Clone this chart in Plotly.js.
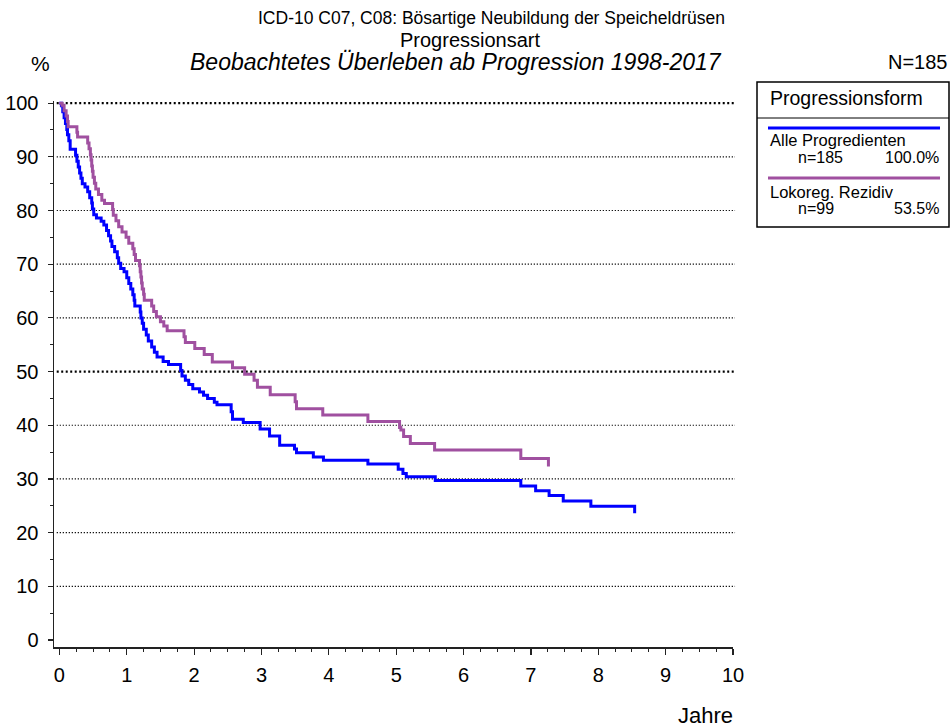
<!DOCTYPE html>
<html>
<head>
<meta charset="utf-8">
<script src="https://cdn.plot.ly/plotly-3.0.1.min.js"></script>
<style>html,body{margin:0;padding:0;background:#fff;}#chart{width:952px;height:728px;}</style>
</head>
<body>
<div id="chart"></div>
<script>
// ---- Data ----
const seriesNames = ["Alle Progredienten", "Lokoreg. Rezidiv"];
const seriesN = ["n=185", "n=99"];
const seriesPct = ["100.0%", "53.5%"];
const totalN = "N=185";

const alleTime = [0,0.03,0.05,0.07,0.09,0.11,0.12,0.14,0.16,0.24,0.26,0.28,0.30,0.32,0.34,0.38,0.42,0.45,0.48,0.49,0.51,0.55,0.62,0.66,0.70,0.73,0.76,0.78,0.82,0.86,0.88,0.91,0.96,1.00,1.03,1.06,1.09,1.11,1.12,1.20,1.21,1.23,1.25,1.29,1.32,1.37,1.41,1.45,1.54,1.62,1.80,1.82,1.87,1.92,1.98,2.08,2.14,2.20,2.30,2.34,2.55,2.57,2.73,2.98,3.12,3.27,3.49,3.52,3.77,3.92,4.58,5.03,5.10,5.15,5.58,6.85,7.07,7.27,7.48,7.89,8.54];
const alleSurv = [100,99.5,98.4,97.3,96.2,95.1,94.1,93.0,91.4,90.3,89.2,88.1,87.0,86.0,85.0,84.4,83.5,82.4,81.4,80.3,79.2,78.6,78.0,77.3,76.3,75.3,74.3,73.3,72.3,71.2,70.2,69.2,68.6,67.5,66.4,65.4,64.3,63.3,62.2,61.1,60.0,59.0,57.9,56.8,55.7,54.6,53.6,52.7,51.9,51.3,50.2,49.2,48.4,47.6,46.8,46.2,45.6,45.0,44.3,43.8,42.5,41.1,40.5,39.3,38.0,36.3,35.6,34.9,34.1,33.5,32.8,31.8,31.0,30.4,29.7,28.7,27.8,26.9,25.9,24.9,23.6];

const lokoTime = [0,0.04,0.07,0.10,0.12,0.13,0.26,0.27,0.42,0.44,0.46,0.47,0.48,0.49,0.50,0.52,0.54,0.58,0.63,0.67,0.79,0.80,0.84,0.88,0.93,0.99,1.03,1.09,1.11,1.13,1.19,1.20,1.21,1.22,1.23,1.25,1.26,1.37,1.40,1.44,1.50,1.55,1.60,1.85,1.87,2.01,2.15,2.27,2.57,2.75,2.89,2.94,3.13,3.50,3.52,3.91,4.58,5.05,5.07,5.11,5.21,5.57,6.85,7.26];
const lokoSurv = [100,99.6,98.6,97.6,96.6,95.6,94.6,93.7,92.6,91.5,90.4,89.4,88.3,87.3,86.2,85.1,84.0,83.0,81.9,81.3,80.2,79.1,78.1,77.0,76.0,75.0,73.9,72.9,71.8,70.7,69.7,68.6,67.6,66.5,65.4,64.4,63.3,62.2,61.2,60.2,59.3,58.5,57.6,56.5,55.4,54.3,53.2,51.8,50.7,49.5,48.4,47.1,45.7,44.4,43.1,41.9,40.7,39.6,39.1,37.9,36.6,35.4,33.8,32.3];

const xTickVals = [0,1,2,3,4,5,6,7,8,9,10];
const yTickVals = [0,10,20,30,40,50,60,70,80,90,100];
const gridVals = [10,20,30,40,50,60,70,80,90,100];
const boldGrid = [50,100];

const colors = ["#0000FF", "#A050A0"];

// ---- Layout helpers (pixel -> paper) ----
const L = 54, R = 733, T = 101, B = 647;
const W = R - L, H = B - T;
const px = v => (v - L) / W;
const py = v => (B - v) / H;
const FONT = "Liberation Sans, Arial, sans-serif";

const traces = [
  {x: alleTime, y: alleSurv, name: seriesNames[0], mode: "lines",
   line: {color: colors[0], width: 3, shape: "hv"}},
  {x: lokoTime, y: lokoSurv, name: seriesNames[1], mode: "lines",
   line: {color: colors[1], width: 3, shape: "hv"}}
];

const shapes = [];
gridVals.forEach(v => {
  const bold = boldGrid.includes(v);
  shapes.push({type: "line", xref: "paper", yref: "y", x0: 0.004, x1: 1.003, y0: v, y1: v,
    line: {color: "#000", width: bold ? 2.2 : 1.2, dash: bold ? "2px,2.5px" : "1.2px,1.8px"}, layer: "below"});
});
// legend box
shapes.push({type: "rect", xref: "paper", yref: "paper", x0: px(757), x1: px(949), y0: py(82), y1: py(227),
  line: {color: "#000", width: 1.5}});
shapes.push({type: "line", xref: "paper", yref: "paper", x0: px(757), x1: px(949), y0: py(118), y1: py(118),
  line: {color: "#000", width: 1}});
shapes.push({type: "line", xref: "paper", yref: "paper", x0: px(768), x1: px(940), y0: py(128), y1: py(128),
  line: {color: colors[0], width: 3}});
shapes.push({type: "line", xref: "paper", yref: "paper", x0: px(768), x1: px(940), y0: py(178), y1: py(178),
  line: {color: colors[1], width: 3}});

function ann(text, x, y, size, opts) {
  return Object.assign({text: text, xref: "paper", yref: "paper", x: px(x), y: py(y),
    showarrow: false, xanchor: "center", yanchor: "middle",
    font: {family: FONT, size: size, color: "#000"}}, opts || {});
}

const annotations = [
  ann("ICD-10 C07, C08: Bösartige Neubildung der Speicheldrüsen", 491, 18, 17.5),
  ann("Progressionsart", 470, 40, 20),
  ann("<i>Beobachtetes Überleben ab Progression 1998-2017</i>", 456, 62, 23),
  ann("%", 40, 63, 21),
  ann(totalN, 918, 62, 20),
  ann("Jahre", 735, 715, 22, {xanchor: "right"}),
  ann("Progressionsform", 768, 98, 19.5, {xanchor: "left"}),
  ann(seriesNames[0], 768, 140, 16.5, {xanchor: "left"}),
  ann(seriesN[0], 796, 157, 16, {xanchor: "left"}),
  ann(seriesPct[0], 941, 157, 16, {xanchor: "right"}),
  ann(seriesNames[1], 768, 192, 16.5, {xanchor: "left"}),
  ann(seriesN[1], 796, 208, 16, {xanchor: "left"}),
  ann(seriesPct[1], 941, 208, 16, {xanchor: "right"})
];

const layout = {
  width: 952, height: 728,
  margin: {l: L, r: 952 - R, t: T, b: 728 - B, pad: 0},
  paper_bgcolor: "#fff", plot_bgcolor: "#fff",
  showlegend: false,
  font: {family: FONT, size: 20, color: "#000"},
  xaxis: {range: [-0.08, 10], tickvals: xTickVals, ticktext: xTickVals.map(String),
    showgrid: false, zeroline: false, showline: true, linecolor: "#222", linewidth: 1.5,
    ticks: "outside", ticklen: 6, tickwidth: 1.2, tickcolor: "#222",
    minor: {dtick: 0.25, tick0: 0, ticks: "outside", ticklen: 3, tickcolor: "#222", tickwidth: 1, showgrid: false},
    ticklabelstandoff: 3, tickfont: {family: FONT, size: 20}},
  yaxis: {range: [-1.3, 100.4], tickvals: yTickVals, ticktext: yTickVals.map(String),
    showgrid: false, zeroline: false, showline: true, linecolor: "#222", linewidth: 1.5,
    ticks: "outside", ticklen: 5, tickwidth: 1.2, tickcolor: "#222",
    minor: {dtick: 5, tick0: 0, ticks: "outside", ticklen: 3, tickcolor: "#222", tickwidth: 1, showgrid: false},
    ticklabelstandoff: 5, tickfont: {family: FONT, size: 20}},
  shapes: shapes,
  annotations: annotations
};

Plotly.newPlot("chart", traces, layout, {displayModeBar: false, staticPlot: true});
</script>
</body>
</html>
